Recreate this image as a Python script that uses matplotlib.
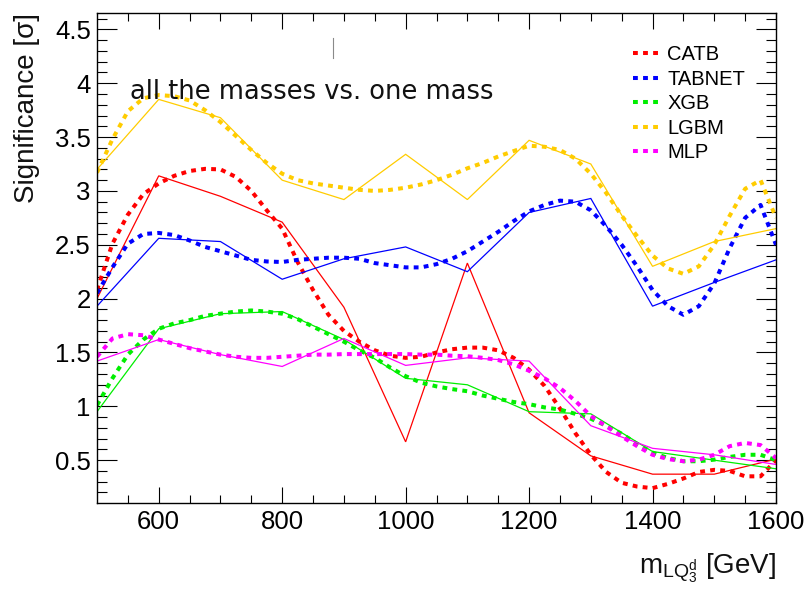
import numpy as np
import matplotlib
matplotlib.use("Agg")
import matplotlib.pyplot as plt

plt.rcParams["font.family"] = ["Liberation Sans", "DejaVu Sans"]
plt.rcParams["mathtext.fontset"] = "custom"
plt.rcParams["mathtext.rm"] = "Liberation Sans"
plt.rcParams["mathtext.it"] = "Liberation Sans:italic"

# ---- measured significance per mass point (solid lines) ----
mass = [500, 600, 700, 800, 900, 1000, 1100, 1200, 1300, 1400, 1500, 1600]
catb = [2.00, 3.14, 2.95, 2.71, 1.92, 0.67, 2.33, 0.94, 0.54, 0.37, 0.37, 0.51]
tabnet = [1.93, 2.56, 2.53, 2.18, 2.37, 2.48, 2.25, 2.80, 2.93, 1.93, 2.15, 2.36]
xgb = [0.95, 1.72, 1.86, 1.88, 1.62, 1.26, 1.20, 0.95, 0.93, 0.58, 0.50, 0.42]
lgbm = [3.20, 3.85, 3.68, 3.10, 2.92, 3.34, 2.92, 3.47, 3.25, 2.30, 2.53, 2.65]
mlp = [1.42, 1.62, 1.48, 1.37, 1.63, 1.38, 1.45, 1.42, 0.82, 0.61, 0.55, 0.46]

# ---- smoothed curves (dotted lines), sampled every 25 GeV ----
curve_mass = list(range(500, 1625, 25))
catb_curve = [2.08, 2.51, 2.78, 2.97, 3.07, 3.14, 3.185, 3.205, 3.20, 3.13,
              3.00, 2.82, 2.65, 2.34, 2.08, 1.85, 1.70, 1.60, 1.52, 1.47,
              1.45, 1.46, 1.50, 1.53, 1.545, 1.545, 1.52, 1.45, 1.34, 1.19,
              0.98, 0.75, 0.55, 0.39, 0.29, 0.255, 0.24, 0.28, 0.33, 0.39,
              0.41, 0.40, 0.35, 0.35, 0.50]
tabnet_curve = [2.05, 2.29, 2.51, 2.60, 2.61, 2.59, 2.54, 2.48, 2.44, 2.40,
                2.36, 2.345, 2.34, 2.36, 2.37, 2.38, 2.38, 2.37, 2.33, 2.31,
                2.29, 2.29, 2.32, 2.37, 2.44, 2.53, 2.62, 2.72, 2.81, 2.87,
                2.91, 2.90, 2.82, 2.67, 2.50, 2.30, 2.08, 1.93, 1.85, 1.93,
                2.14, 2.47, 2.75, 2.87, 2.50]
xgb_curve = [1.01, 1.26, 1.48, 1.62, 1.72, 1.77, 1.80, 1.84, 1.86, 1.88,
             1.89, 1.88, 1.86, 1.81, 1.74, 1.67, 1.60, 1.52, 1.45, 1.36,
             1.28, 1.22, 1.185, 1.16, 1.14, 1.10, 1.07, 1.04, 1.02, 0.99,
             0.97, 0.93, 0.885, 0.82, 0.745, 0.65, 0.57, 0.52, 0.49, 0.49,
             0.505, 0.53, 0.55, 0.55, 0.50]
lgbm_curve = [3.17, 3.48, 3.74, 3.86, 3.89, 3.88, 3.84, 3.75, 3.64, 3.51,
              3.38, 3.26, 3.16, 3.10, 3.07, 3.05, 3.03, 3.01, 3.00, 3.01,
              3.03, 3.06, 3.10, 3.15, 3.21, 3.26, 3.32, 3.37, 3.42, 3.41,
              3.38, 3.30, 3.16, 2.98, 2.77, 2.58, 2.40, 2.28, 2.23, 2.30,
              2.50, 2.77, 3.02, 3.10, 2.75]
mlp_curve = [1.46, 1.63, 1.67, 1.66, 1.62, 1.58, 1.54, 1.51, 1.48, 1.46,
             1.45, 1.45, 1.46, 1.47, 1.48, 1.48, 1.485, 1.485, 1.485, 1.485,
             1.485, 1.48, 1.48, 1.47, 1.465, 1.45, 1.43, 1.39, 1.33, 1.26,
             1.17, 1.05, 0.91, 0.815, 0.72, 0.63, 0.55, 0.51, 0.49, 0.505,
             0.55, 0.63, 0.66, 0.64, 0.52]

labels = ["CATB", "TABNET", "XGB", "LGBM", "MLP"]
colors = ["#ff0000", "#0000ff", "#00ee00", "#ffcc00", "#ff00ff"]
points = [catb, tabnet, xgb, lgbm, mlp]
curves = [catb_curve, tabnet_curve, xgb_curve, lgbm_curve, mlp_curve]

W, H = 809, 591
fig = plt.figure(figsize=(W / 100, H / 100), dpi=100)
ax = fig.add_axes([97 / W, 1 - 502.7 / H, 679 / W, 490 / H])

handles = []
for lab, col, pts, crv in zip(labels, colors, points, curves):
    ax.plot(mass, pts, color=col, lw=0.9, solid_joinstyle="miter")
    (h,) = ax.plot(curve_mass, crv, color=col, lw=2.9,
                   linestyle=(0, (1.2, 1.3)), dash_capstyle="butt",
                   label=lab)
    handles.append(h)

ax.set_xlim(500, 1600)
ax.set_ylim(0.105, 4.655)
ax.set_xticks([600, 800, 1000, 1200, 1400, 1600])
ax.set_xticks(np.arange(550, 1600, 50), minor=True)
ax.set_yticks([0.5, 1, 1.5, 2, 2.5, 3, 3.5, 4, 4.5])
ax.set_yticklabels(["0.5", "1", "1.5", "2", "2.5", "3", "3.5", "4", "4.5"])
ax.set_yticks(np.arange(0.2, 4.65, 0.1), minor=True)

ax.tick_params(axis="both", which="both", direction="in", top=True,
               right=True, colors="black", labelsize=18.5, width=0.8)
ax.tick_params(axis="x", which="major", length=11.5, pad=5)
ax.tick_params(axis="x", which="minor", length=5.8)
ax.tick_params(axis="y", which="major", length=14.4, pad=4.5)
ax.tick_params(axis="y", which="minor", length=7.2)
for s in ax.spines.values():
    s.set_linewidth(1.0)
    s.set_color("black")

ax.text(0.0486, 0.823, "all the masses vs. one mass", transform=ax.transAxes,
        fontsize=18.5, family=["DejaVu Sans"], ha="left", va="baseline",
        color="#111111")
ax.plot([0.3476, 0.3476], [0.9076, 0.948], transform=ax.transAxes,
        color="#8a8a8a", lw=0.8)

leg = ax.legend(handles=handles, loc="upper left",
                bbox_to_anchor=(633 / W, 1 - 45.3 / H),
                bbox_transform=fig.transFigure, frameon=False,
                fontsize=14.5, handlelength=1.25, handletextpad=0.45,
                labelspacing=0.27, borderpad=0, borderaxespad=0)

fig.text(27 / W, 1 - 13 / H, "Significance [\u03c3]", rotation=90,
         ha="center", va="top", fontsize=20, color="#111111")
fig.text(776 / W, 1 - 573 / H, r"$\mathregular{m_{LQ_{3}^{d}}}$ [GeV]",
         ha="right", va="baseline", fontsize=20, color="#111111")

fig.savefig("out.png", dpi=100, facecolor="white")
